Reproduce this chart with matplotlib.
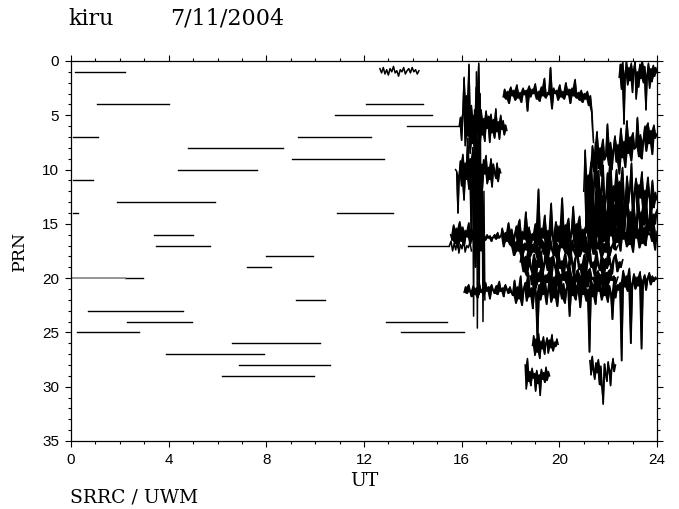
import matplotlib.pyplot as plt
import numpy as np

plt.rcParams['font.family'] = ['DejaVu Serif']

# quiet passes: PRN, start UT, end UT
flat_prn = [1, 4, 7, 8, 10, 11, 13, 14, 16, 17, 18, 19, 20, 22, 23, 24, 25, 26, 27, 28, 29,
            4, 5, 7, 9, 14, 6, 17, 24, 25]
flat_t0 = [0.15, 1.05, 0.1, 4.8, 4.4, 0.1, 1.9, 0.1, 3.4, 3.5, 8.0, 7.2, 2.2, 9.2, 0.7, 2.3, 0.25, 6.6, 3.9, 6.9, 6.2,
           12.1, 10.8, 9.3, 9.05, 10.9, 13.75, 13.8, 12.9, 13.5]
flat_t1 = [2.2, 4.0, 1.1, 8.7, 7.6, 0.9, 5.9, 0.3, 5.0, 5.7, 9.9, 8.2, 2.95, 10.4, 4.6, 4.95, 2.8, 10.2, 7.9, 10.6, 9.95,
           14.4, 14.8, 12.3, 12.8, 13.2, 15.9, 15.5, 15.4, 16.1]
gray_prn = [20]
gray_t0 = [0.0]
gray_t1 = [2.2]

# noisy passes: start UT, end UT, PRN values
p1_t = (12.65, 14.25)
p1 = [0.7, 1.1, 0.6, 1.2, 0.8, 1.3, 0.7, 1.0, 0.5, 1.1, 0.9, 1.4, 0.8, 1.0, 0.6, 1.2, 0.9, 0.7, 1.1, 0.6,
      1.0, 0.8, 1.2, 0.9]

p6_t = (15.9, 17.85)
p6 = [6.0, 5.2, 7.3, 4.8, 1.5, 7.8, 3.2, 6.9, 0.3, 8.5, 4.1, 7.6, 5.0, 9.8, 2.4, 6.7, 0.2, 7.9, 4.5, 6.8,
      5.3, 7.4, 4.6, 6.2, 5.1, 7.5, 4.9, 6.6, 5.4, 7.1, 4.4, 6.5, 5.6, 7.2, 5.0, 6.3, 5.5, 6.8, 5.9, 6.4]

p10_t = (15.75, 17.6)
p10 = [10.0, 10.2, 14.0, 10.5, 9.2, 11.5, 8.6, 12.8, 9.4, 10.9, 7.1, 11.8, 9.0, 16.5, 8.3, 10.7, 9.6, 12.2,
       8.8, 11.0, 9.3, 10.5, 11.8, 9.1, 10.4, 8.7, 11.3, 9.8, 10.9, 9.0, 11.6, 9.5, 10.2, 10.8, 9.4, 11.1,
       9.9, 10.3]

p3_t = (17.7, 21.4)
p3 = [3.3, 2.6, 3.5, 2.8, 3.9, 2.4, 3.2, 2.7, 3.6, 2.2, 3.4, 2.9, 3.8, 2.5, 3.1, 2.7, 4.6, 2.3, 3.3, 2.6,
      3.0, 2.1, 3.5, 2.8, 3.7, 2.4, 3.2, 1.6, 3.4, 2.9, 3.1, 0.6, 4.4, 2.5, 3.0, 2.7, 3.6, 2.2, 3.3, 2.8,
      3.5, 2.0, 3.1, 2.6, 3.9, 2.5, 3.2, 1.7, 3.4, 2.9, 3.6, 2.7, 3.8, 3.0, 3.5, 2.8, 4.1, 3.2, 4.7, 7.5]

p16a_t = (15.55, 17.6)
p16a = [16.0, 16.5, 15.1, 16.8, 15.4, 17.2, 14.8, 16.6, 15.3, 17.0, 15.6, 16.2, 14.9, 16.9, 15.5, 16.4,
        17.3, 15.2, 16.7, 15.8, 16.1, 16.4, 16.2, 16.5, 16.0, 16.3, 16.1, 16.6, 16.2, 16.0, 16.4, 15.8,
        16.3, 16.1]

p16b_t = (17.6, 24.0)
p16b = [16.2, 15.4, 17.1, 15.8, 16.6, 14.9, 16.9, 15.5, 17.3, 16.0, 15.2, 16.8, 14.6, 17.0, 15.7, 16.4,
        13.9, 16.7, 15.3, 17.2, 15.9, 16.5, 15.0,
        16.8, 11.8, 17.1, 15.4, 16.3, 14.2, 17.4, 15.6, 16.9, 13.1, 16.0, 17.5, 14.8, 16.6, 15.2, 17.0,
        12.6, 16.4, 15.1, 17.3, 14.5, 16.7, 15.8, 13.4, 17.2, 15.0, 16.5, 14.3, 16.9, 15.5, 17.6,
        15.2, 12.1, 17.4, 14.6, 16.8, 13.5, 17.7, 15.1, 16.2, 11.9, 17.0, 14.4, 16.6, 15.6, 17.8, 13.2,
        16.1, 14.9, 17.3, 15.4, 16.7, 12.8, 17.5, 14.1, 16.4, 15.8, 17.1, 13.7, 16.9, 15.0, 17.6, 14.7,
        16.3, 15.5, 17.2, 13.9, 16.8, 15.3, 17.0, 14.5, 16.0, 15.9, 16.6, 14.8, 17.4, 15.7]

p17_t = (15.5, 16.4)
p17 = [17.0, 16.6, 17.5, 16.8, 17.4, 16.5, 17.7, 16.9, 17.3, 16.4, 17.6, 17.0, 17.2, 16.7, 17.5]

p17b_t = (18.0, 22.4)
p17b = [17.0, 16.3, 17.9, 16.6, 17.5, 16.1, 18.2, 16.8, 17.4, 16.4, 18.0, 16.9, 17.6, 16.2, 18.3, 17.1,
        16.5, 17.8, 16.7, 18.1, 16.3, 17.3, 17.9, 16.6, 18.4, 16.9, 17.2, 16.0, 17.7, 16.8, 18.2, 16.5,
        17.4, 17.9, 16.4, 18.0, 16.7, 17.5, 16.2, 18.3, 17.0, 16.6, 17.8, 16.9, 17.3, 16.1, 18.1, 16.8,
        17.6, 16.4, 17.9, 17.1, 16.7, 17.4, 17.0]

wild_t = (16.45, 16.95)
wild = [8.0, 23.5, 4.5, 19.0, 1.0, 24.6, 6.0, 21.5, 3.0, 17.5, 9.5, 24.0, 12.0, 22.0]

p21_t = (16.1, 24.0)
p21 = [21.3, 20.8, 21.4, 20.6, 21.2, 21.7, 20.7, 21.5, 20.9, 21.8, 20.5, 21.3, 21.0, 21.6, 20.4, 21.2,
       20.8, 21.9, 20.6, 21.1, 21.4, 20.7, 21.5, 20.3, 21.2, 20.9, 21.7, 20.6, 21.0, 21.4, 20.8, 21.3,
       21.6, 20.2, 22.3, 20.8, 21.9, 19.8, 22.5, 21.0, 20.4, 22.1, 19.5, 21.7, 20.9, 22.8, 20.1, 21.4,
       25.8, 20.6, 22.0, 19.9, 21.5, 20.3, 22.4, 21.1, 19.6, 22.2, 20.7, 21.8, 20.0, 22.6, 21.2, 19.7,
       21.9, 20.5, 22.3, 21.0, 20.2, 23.5, 20.8, 21.6, 19.4, 22.0, 20.6, 21.3, 22.7, 19.9, 21.5, 20.4,
       22.1, 21.0, 26.8, 20.1, 21.7, 20.5, 22.4, 19.8, 21.2, 20.9, 22.0, 20.3, 21.6, 19.5, 22.2, 20.7,
       21.4, 23.8, 20.2, 21.8, 20.6, 21.1,
       20.4, 27.6, 19.3, 20.8, 19.8, 21.2, 19.1, 26.0, 20.5, 19.6, 21.0, 19.9, 20.7, 19.4, 26.5, 20.2,
       19.7, 21.1, 20.0, 19.5, 20.6, 19.8, 20.3, 19.9, 20.1]

p18_t = (18.4, 22.6)
p18 = [18.5, 17.6, 19.4, 18.0, 19.8, 17.3, 18.9, 19.5, 17.8, 20.1, 18.3, 19.0, 17.5, 19.7, 18.6, 17.1,
       19.3, 18.1, 20.3, 17.9, 18.8, 19.6, 17.4, 19.1, 18.4, 20.0, 17.7, 18.9, 19.4, 17.2, 18.6, 19.9,
       18.0, 17.6, 19.2, 18.7, 20.2, 17.8, 19.5, 18.3, 17.0, 19.0, 18.5, 19.8, 17.5, 18.8, 19.3, 17.9,
       20.4, 18.2, 19.1, 17.6, 18.7, 19.6, 18.1, 17.8, 19.4, 18.5, 19.0, 18.3]

p20_t = (18.8, 22.4)
p20 = [19.8, 20.6, 19.2, 20.9, 19.5, 20.3, 19.0, 21.1, 19.7, 20.4, 19.3, 20.8, 19.9, 20.5, 19.1, 21.0,
       19.6, 20.2, 19.4, 20.7, 19.0, 20.9, 19.8, 20.3, 19.2, 21.2, 19.7, 20.5, 19.4, 20.8, 19.1, 20.1,
       19.9, 20.6, 19.3, 21.0, 19.6, 20.4, 19.5, 20.7, 19.2, 20.2, 19.8, 20.5, 19.9]

p12_t = (21.0, 24.0)
p12 = [12.0, 8.2, 15.8, 10.5, 13.9, 9.3, 14.6, 11.2, 7.5, 13.0, 10.1, 15.2, 11.8, 9.6, 14.1, 12.5, 10.3,
       13.6, 9.0, 14.8, 11.5, 12.9, 10.0, 13.4, 11.1, 15.0, 9.8, 12.7, 14.3, 10.6, 13.1, 11.7, 9.4, 14.5,
       12.2, 10.8, 13.8, 11.4, 12.6, 10.2, 14.0, 11.9, 13.3, 10.7, 12.4, 14.2, 11.0, 13.5, 12.1, 12.8]

p14_t = (21.2, 24.0)
p14 = [14.5, 12.8, 16.2, 13.5, 15.4, 11.9, 16.0, 13.0, 14.8, 12.4, 15.7, 13.8, 16.4, 12.6, 14.2, 15.9,
       13.3, 16.6, 12.2, 14.9, 13.6, 15.5, 12.9, 16.1, 14.0, 12.5, 15.2, 13.9, 16.3, 13.1, 14.6, 15.8,
       12.7, 14.4, 16.0, 13.4, 15.1, 12.3, 14.7, 15.6, 13.2, 16.2, 14.1, 15.0, 13.7]

p8_t = (21.3, 24.0)
p8 = [9.5, 7.8, 10.2, 8.4, 6.5, 9.9, 8.0, 10.6, 7.2, 9.1, 8.7, 5.8, 9.6, 7.5, 10.0, 8.2, 6.9, 9.3, 7.7,
      10.4, 6.2, 8.9, 7.4, 9.8, 5.5, 8.5, 7.0, 9.2, 6.6, 8.1, 7.9, 5.2, 8.8, 6.8, 9.0, 7.3, 6.0, 8.3,
      5.7, 7.6, 6.4, 8.6, 5.9, 7.1, 6.7]

p1b_t = (22.45, 24.0)
p1b = [1.5, 0.3, 2.6, 0.1, 5.8, 1.2, 0.0, 2.2, 0.6, 1.8, 0.2, 2.9, 0.8, 0.1, 3.5, 1.0, 2.4, 0.3, 1.6,
       0.0, 2.0, 0.5, 4.5, 1.3, 0.2, 2.5, 0.7, 1.9, 0.4, 1.4, 0.6, 1.1]

p26_t = (18.9, 19.95)
p26 = [26.2, 25.3, 27.1, 25.6, 26.8, 25.1, 27.4, 25.8, 26.5, 25.4, 27.0, 26.0, 25.5, 26.9, 25.7, 26.4,
       25.2, 26.7, 25.9, 26.3, 25.6, 26.1]

p29_t = (18.6, 19.6)
p29 = [28.0, 30.2, 27.4, 29.5, 28.6, 29.9, 28.3, 29.2, 28.8, 30.4, 28.5, 29.7, 28.9, 30.8, 28.4, 29.3,
       28.7, 29.6, 28.2, 29.4, 28.6, 29.0]

p28_t = (21.25, 22.3)
p28 = [27.6, 28.9, 27.2, 28.4, 29.3, 27.8, 28.7, 27.5, 29.8, 28.1, 30.0, 31.6, 27.9, 28.8, 29.5, 27.7,
       28.5, 29.9, 28.2, 27.4, 28.6, 28.0]

light = [(p1_t, p1), (p17_t, p17), (wild_t, wild)]
heavy = [(p6_t, p6), (p10_t, p10), (p3_t, p3), (p16a_t, p16a), (p16b_t, p16b), (p17b_t, p17b),
         (p21_t, p21), (p18_t, p18), (p20_t, p20), (p12_t, p12), (p14_t, p14), (p8_t, p8),
         (p1b_t, p1b), (p26_t, p26), (p29_t, p29), (p28_t, p28)]

fig = plt.figure(figsize=(6.79, 5.09), dpi=100, facecolor='w')
ax = fig.add_axes([0.1046, 0.1336, 0.863, 0.7466])

for p, a, b in zip(flat_prn, flat_t0, flat_t1):
    ax.plot([a, b], [p, p], color='k', lw=1.0)
for p, a, b in zip(gray_prn, gray_t0, gray_t1):
    ax.plot([a, b], [p, p], color='0.55', lw=1.3)
for (a, b), y in light:
    ax.plot(np.linspace(a, b, len(y)), y, color='k', lw=1.1)
for (a, b), y in heavy:
    t = np.linspace(a, b, len(y))
    y = np.array(y)
    # the receiver sampled far faster than these points: shade the swing between samples
    hi = np.maximum(y[:-1], y[1:])
    lo = np.minimum(y[:-1], y[1:])
    ax.fill_between(t[:-1], lo, hi, color='k', lw=0)
    ax.plot(t, y, color='k', lw=1.1)

ax.set_xlim(0, 24)
ax.set_ylim(35, 0)
ax.set_xticks(np.arange(0, 25, 4))
ax.set_xticks(np.arange(0, 25, 1), minor=True)
ax.set_yticks(np.arange(0, 36, 5))
ax.set_yticks(np.arange(0, 36, 1), minor=True)
ax.tick_params(which='both', top=True, right=True, direction='out', width=0.8)
ax.tick_params(which='major', length=4.5, pad=4)
ax.tick_params(which='minor', length=2.5)
for lab in ax.get_xticklabels() + ax.get_yticklabels():
    lab.set_family(['Liberation Sans', 'DejaVu Sans'])
    lab.set_fontsize(11)
for s in ax.spines.values():
    s.set_linewidth(0.9)

ax.set_xlabel('UT', fontsize=13.5, labelpad=4)
ax.set_ylabel('PRN', fontsize=12.5, labelpad=10)
fig.text(0.101, 0.985, 'kiru', fontsize=16, va='top')
fig.text(0.251, 0.985, '7/11/2004', fontsize=16, va='top')
fig.text(0.103, 0.005, 'SRRC / UWM', fontsize=13.5, va='bottom')

plt.savefig('out.png', dpi=100)
